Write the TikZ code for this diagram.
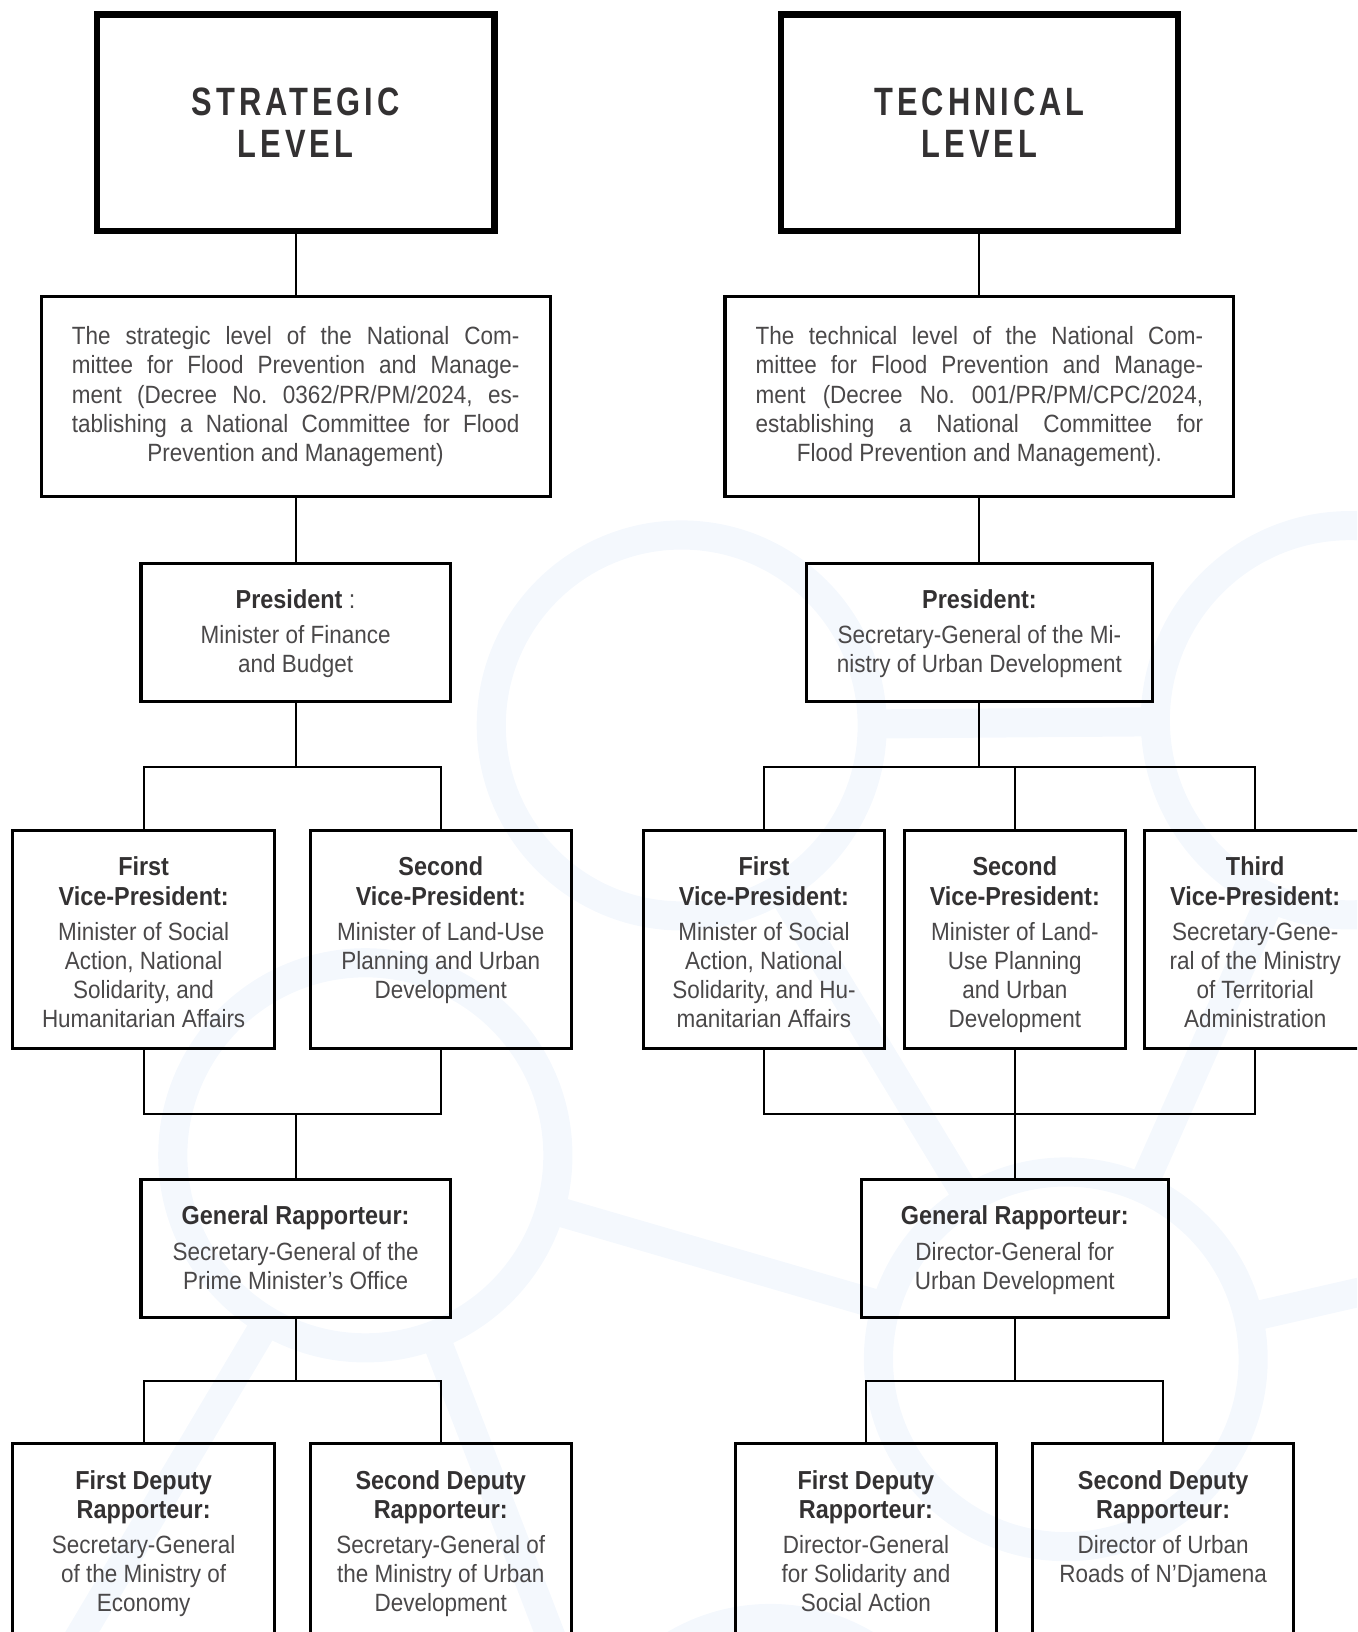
\documentclass[tikz,border=0pt]{standalone}
\usepackage{fontspec}
\setmainfont[FakeStretch=0.9]{Liberation Sans}
\newfontfamily\titlefont[FakeStretch=0.78,LetterSpace=10]{Liberation Sans}
\usetikzlibrary{calc}
\frenchspacing
\definecolor{ink}{HTML}{333132}
\definecolor{bodyink}{HTML}{4A4849}
\definecolor{wm}{HTML}{F4F8FD}
\newcommand{\orgtext}[4]{\parbox[c][#2][t]{#1}{\centering\vspace*{12pt}%
{\fontsize{12.5}{14}\selectfont\bfseries\color{ink}\strut#3\par}\vspace{3pt}%
{\fontsize{12}{14}\selectfont\color{bodyink}#4\par}}}
\newcommand{\jline}[1]{\makebox[215pt][s]{#1}}

\begin{document}
\begin{tikzpicture}[x=0.5pt,y=-0.5pt,
  titlebox/.style={draw,line width=3pt,inner sep=0pt,minimum width=191pt,minimum height=104pt,
    align=center,text=ink,font={\titlefont\bfseries\fontsize{19}{20}\selectfont}},
  descbox/.style={draw,line width=1.5pt,inner sep=0pt,minimum width=244.5pt,minimum height=96pt,
    text=bodyink,font={\fontsize{12}{14}\selectfont}},
  orgbox/.style={draw,line width=1.5pt,inner sep=0pt},
  conn/.style={line width=1pt}]
\useasboundingbox (0,0) rectangle (1304,1568);
\clip (0,0) rectangle (1304,1568);
% watermark
\begin{scope}[draw=wm,line width=14pt]
\draw (655,697) circle[radius=183];
\draw (1297,692) circle[radius=187];
\draw (351,1110) circle[radius=185];
\draw (1024,1306) circle[radius=180];
\draw (740,1735) circle[radius=180];
\draw[shorten <=91pt,shorten >=93pt] (655,697) -- (1297,692);
\draw[shorten <=92pt,shorten >=90pt] (351,1110) -- (1024,1306);
\draw[shorten <=91pt,shorten >=90pt] (655,697) -- (1024,1306);
\draw[shorten <=93pt,shorten >=90pt] (1297,692) -- (1024,1306);
\draw[shorten <=90pt] (1024,1306) -- (1400,1220);
\draw[shorten <=92pt] (351,1110) -- (60,1600);
\draw[shorten <=92pt] (351,1110) -- (540,1600);
\end{scope}

\node[titlebox] (titleL) at (284,118) {\raisebox{-2pt}{STRATEGIC}\\\raisebox{-2pt}{LEVEL}};
\node[titlebox] (titleR) at (941,118) {\raisebox{-2pt}{TECHNICAL}\\\raisebox{-2pt}{LEVEL}};

\node[descbox] (descL) at (284,381) {\parbox{215pt}{\centering
\jline{The strategic level of the National Com-}\\
\jline{mittee for Flood Prevention and Manage-}\\
\jline{ment (Decree No. 0362/PR/PM/2024, es-}\\
\jline{tablishing a National Committee for Flood}\\
Prevention and Management)}};
\node[descbox] (descR) at (941,381) {\parbox{215pt}{\centering
\jline{The technical level of the National Com-}\\
\jline{mittee for Flood Prevention and Manage-}\\
\jline{ment (Decree No. 001/PR/PM/CPC/2024,}\\
\jline{establishing a National Committee for}\\
Flood Prevention and Management).}};

\node[orgbox] (presL) at (284,607.5) {\orgtext{148.5pt}{66.5pt}{President{\mdseries\color{bodyink}\ :}}{Minister of Finance\\and Budget}};
\node[orgbox] (presR) at (941,607.5) {\orgtext{166.5pt}{66.5pt}{President:}{Secretary-General of the Mi-\\nistry of Urban Development}};

\node[orgbox] (vpL1) at (138,902.5) {\orgtext{126pt}{104.5pt}{First\\Vice-President:}{Minister of Social\\Action, National\\Solidarity, and\\Humanitarian Affairs}};
\node[orgbox] (vpL2) at (423.5,902.5) {\orgtext{125.5pt}{104.5pt}{Second\\Vice-President:}{Minister of Land-Use\\Planning and Urban\\Development}};
\node[orgbox] (vpR1) at (734,902.5) {\orgtext{116pt}{104.5pt}{First\\Vice-President:}{Minister of Social\\Action, National\\Solidarity, and Hu-\\manitarian Affairs}};
\node[orgbox] (vpR2) at (975,902.5) {\orgtext{106pt}{104.5pt}{Second\\Vice-President:}{Minister of Land-\\Use Planning\\and Urban\\Development}};
\node[orgbox] (vpR3) at (1206,902.5) {\orgtext{106pt}{104.5pt}{Third\\Vice-President:}{Secretary-Gene-\\ral of the Ministry\\of Territorial\\Administration}};

\node[orgbox] (genL) at (284,1199.5) {\orgtext{148.5pt}{66.5pt}{General Rapporteur:}{Secretary-General of the\\Prime Minister’s Office}};
\node[orgbox] (genR) at (975,1199.5) {\orgtext{147.5pt}{66.5pt}{General Rapporteur:}{Director-General for\\Urban Development}};

\node[orgbox] (depL1) at (138,1491.5) {\orgtext{126pt}{104.5pt}{First Deputy\\Rapporteur:}{Secretary-General\\of the Ministry of\\Economy}};
\node[orgbox] (depL2) at (423.5,1491.5) {\orgtext{125.5pt}{104.5pt}{Second Deputy\\Rapporteur:}{Secretary-General of\\the Ministry of Urban\\Development}};
\node[orgbox] (depR1) at (832,1491.5) {\orgtext{125pt}{104.5pt}{First Deputy\\Rapporteur:}{Director-General\\for Solidarity and\\Social Action}};
\node[orgbox] (depR2) at (1117.5,1491.5) {\orgtext{125.5pt}{104.5pt}{Second Deputy\\Rapporteur:}{Director of Urban\\Roads of N’Djamena}};

\coordinate (jL1) at (284,737);
\coordinate (jL2) at (284,1070);
\coordinate (jL3) at (284,1327);
\coordinate (jR1) at (941,737);
\coordinate (jR2) at (975,1070);
\coordinate (jR3) at (975,1327);

\draw[conn] (titleL) -- (descL);
\draw[conn] (descL) -- (presL);
\draw[conn] (presL) -- (jL1);
\draw[conn] (vpL1) |- (jL1) -| (vpL2);
\draw[conn] (vpL1) |- (jL2) -| (vpL2);
\draw[conn] (jL2) -- (genL);
\draw[conn] (genL) -- (jL3);
\draw[conn] (depL1) |- (jL3) -| (depL2);

\draw[conn] (titleR) -- (descR);
\draw[conn] (descR) -- (presR);
\draw[conn] (presR) -- (jR1);
\draw[conn] (vpR1) |- (jR1) -| (vpR3);
\draw[conn] (vpR2) -- (vpR2 |- jR1);
\draw[conn] (vpR1) |- (jR2) -| (vpR3);
\draw[conn] (vpR2) -- (genR);
\draw[conn] (genR) -- (jR3);
\draw[conn] (depR1) |- (jR3) -| (depR2);
\end{tikzpicture}
\end{document}
